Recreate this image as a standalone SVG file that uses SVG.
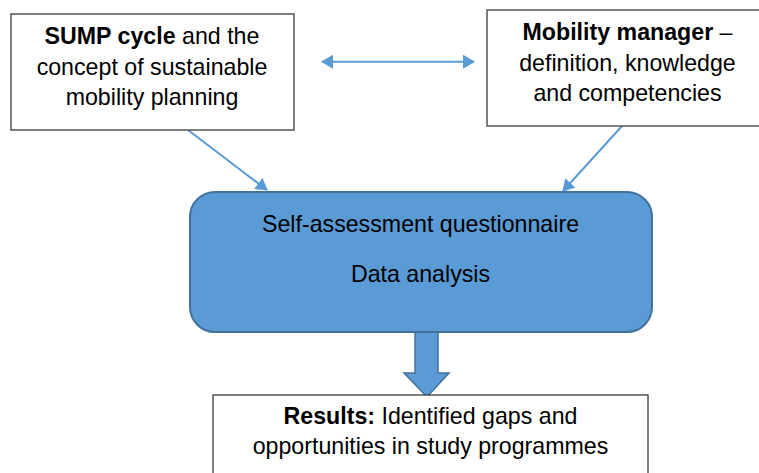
<svg xmlns="http://www.w3.org/2000/svg" width="759" height="473" viewBox="0 0 759 473">
  <style>
    .box { fill: #ffffff; stroke: #3a3a3a; stroke-width: 1.3; }
    .core { fill: #5b9bd5; stroke: #41719c; stroke-width: 2; }
    .lbl { font-family: "Liberation Sans", Arial, sans-serif; font-size: 23.2px; fill: #000000; text-anchor: middle; }
    .b { font-weight: bold; }
    .link { stroke: #5b9bd5; stroke-width: 2; fill: none; }
  </style>
  <defs>
    <marker id="head" viewBox="0 0 12 14" refX="11" refY="7" markerWidth="12" markerHeight="14" markerUnits="userSpaceOnUse" orient="auto-start-reverse">
      <path d="M0,0 L12,7 L0,14 Z" fill="#5b9bd5"/>
    </marker>
  </defs>

  <rect width="759" height="473" fill="#ffffff"/>

  <g id="connectors">
    <line class="link" x1="322" y1="61.7" x2="474" y2="61.7" marker-start="url(#head)" marker-end="url(#head)"/>
    <line class="link" x1="188" y1="130" x2="267" y2="190" marker-end="url(#head)"/>
    <line class="link" x1="622" y1="126" x2="563" y2="191" marker-end="url(#head)"/>
    <path d="M415,332 L438,332 L438,373 L449,373 L427,397 L404,373 L415,373 Z" fill="#5b9bd5" stroke="#41719c" stroke-width="1.5"/>
  </g>

  <g id="sump">
    <rect class="box" x="11" y="14" width="283" height="116"/>
    <text class="lbl" x="152" y="44"><tspan class="b">SUMP cycle</tspan> and the</text>
    <text class="lbl" x="152" y="74.5">concept of sustainable</text>
    <text class="lbl" x="152" y="105">mobility planning</text>
  </g>

  <g id="manager">
    <rect class="box" x="487" y="10" width="281" height="116"/>
    <text class="lbl" x="627.5" y="39.5"><tspan class="b">Mobility manager</tspan> –</text>
    <text class="lbl" x="627.5" y="70.5">definition, knowledge</text>
    <text class="lbl" x="627.5" y="100.5">and competencies</text>
  </g>

  <g id="assessment">
    <rect class="core" x="190" y="192" width="462" height="140" rx="25" ry="25"/>
    <text class="lbl" x="420.5" y="232">Self-assessment questionnaire</text>
    <text class="lbl" x="420.5" y="282">Data analysis</text>
  </g>

  <g id="results">
    <rect class="box" x="213" y="395" width="435" height="90"/>
    <text class="lbl" x="430.5" y="424"><tspan class="b">Results:</tspan> Identified gaps and</text>
    <text class="lbl" x="430.5" y="453.5">opportunities in study programmes</text>
  </g>
</svg>
